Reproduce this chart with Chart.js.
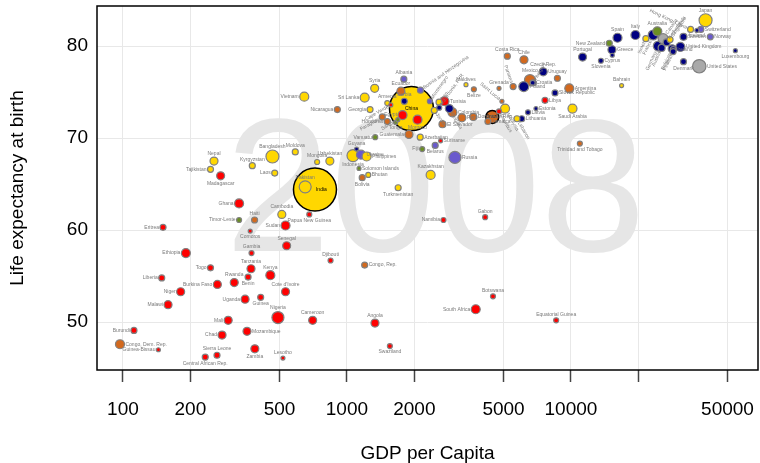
<!DOCTYPE html>
<html>
<head>
<meta charset="utf-8">
<script src="https://cdn.jsdelivr.net/npm/chart.js@4.4.1/dist/chart.umd.min.js"></script>
<style>
  html, body { margin: 0; padding: 0; background: #ffffff; }
  #wrap { width: 760px; height: 463px; }
</style>
</head>
<body>
<div id="wrap"><canvas id="gapminder" width="760" height="463"></canvas></div>
<script>
// Gapminder-style snapshot: GDP per capita vs life expectancy, 2008
const yearLabel = '2008';

const countries = [
  'Vietnam', 'Syria', 'Sri Lanka', 'Nicaragua', 'Albania', 'Ecuador', 'Armenia', 'Georgia', 'Paraguay', 'Honduras',
  'Vanuatu', 'Guyana', 'Indonesia', 'Ukraine', 'Philippines', 'Moldova', 'Mongolia', 'Uzbekistan', 'Bangladesh', 'Kyrgyzstan',
  'Laos', 'India', 'Pakistan', 'Cambodia', 'Haiti', 'Sudan', 'Papua New Guinea', 'Bolivia', 'Solomon Islands', 'Bhutan',
  'Nepal', 'Tajikistan', 'Madagascar', 'Ghana', 'Timor-Leste', 'Eritrea', 'Comoros', 'Gambia', 'Ethiopia', 'Togo',
  'Tanzania', 'Liberia', 'Rwanda', 'Burkina Faso', 'Benin', 'Niger', 'Uganda', 'Malawi', 'Mali', 'Chad',
  'Burundi', 'Congo, Dem. Rep.', 'Guinea-Bissau', 'Sierra Leone', 'Central African Rep.', 'Senegal', 'Kenya', "Cote d'Ivoire", 'Djibouti', 'Congo, Rep.',
  'Guinea', 'Nigeria', 'Cameroon', 'Angola', 'Mozambique', 'Zambia', 'Lesotho', 'Swaziland', 'South Africa', 'Botswana',
  'Equatorial Guinea', 'Russia', 'Kazakhstan', 'Turkmenistan', 'Namibia', 'Gabon', 'Belarus', 'Fiji', 'Suriname', 'Azerbaijan',
  'Guatemala', 'Tonga', 'Samoa', 'Cape Verde', 'Serbia', 'Egypt', 'Morocco', 'China', 'Bosnia and Herzegovina', 'Tunisia',
  'Colombia', 'El Salvador', 'Peru', 'Dominican Rep.', 'Belize', 'Maldives', 'Grenada', 'Costa Rica', 'Chile', 'Mexico',
  'Brazil', 'Panama', 'Poland', 'Hungary', 'Saint Lucia', 'Malaysia', 'Mauritius', 'Estonia', 'Lithuania', 'Latvia',
  'Lebanon', 'Jordan', 'Iran', 'Macedonia, FYR', 'Bulgaria', 'Montenegro', 'Jamaica', 'Spain', 'Italy', 'Israel',
  'Australia', 'New Zealand', 'Portugal', 'Greece', 'Cyprus', 'Slovenia', 'Czech Rep.', 'Uruguay', 'Argentina', 'Croatia',
  'Bahrain', 'Slovak Republic', 'Libya', 'Saudi Arabia', 'Trinidad and Tobago', 'Japan', 'Hong Kong, China', 'Switzerland', 'Iceland', 'Norway',
  'Sweden', 'United Kingdom', 'Ireland', 'Denmark', 'United States', 'Luxembourg', 'France', 'Germany', 'Austria', 'Netherlands',
  'Belgium', 'Finland', 'Canada', 'Singapore'
];

const gdpPerCapita = [
  645, 1330, 1200, 906, 1795, 1741, 1514, 1268, 1438, 1514,
  1337, 1104, 1064, 1155, 1224, 588, 736, 839, 465, 378,
  476, 720, 651, 512, 387, 532, 679, 1170, 1132, 1245,
  255, 246, 273, 330, 330, 151, 370, 375, 191, 246,
  373, 149, 314, 264, 362, 181, 351, 159, 295, 277,
  112, 97, 144, 263, 233, 538, 455, 532, 845, 1200,
  412, 492, 703, 1334, 358, 388, 518, 1555, 3758, 4487,
  8590, 3034, 2364, 1693, 2698, 4140, 2477, 2168, 2619, 2124,
  1892, 1650, 1687, 1570, 1803, 1771, 2066, 1941, 2129, 2725,
  2958, 2670, 3260, 3665, 3687, 3400, 4774, 5200, 6170, 6560,
  4455, 5520, 6160, 6790, 4920, 5080, 4774, 6980, 6030, 6430,
  5740, 2455, 2577, 2582, 2865, 2345, 4260, 16140, 19400, 21600,
  24300, 14830, 11270, 15240, 15300, 13610, 7520, 8700, 9830, 6750,
  16830, 8490, 7660, 10160, 10960, 39900, 34200, 38000, 36500, 41900,
  31800, 30800, 28600, 31800, 37400, 54200, 23300, 24550, 25400, 26750,
  28300, 28600, 25800, 27700
];

const lifeExpectancy = [
  74.5, 75.4, 74.4, 73.1, 76.4, 75.1, 73.8, 73.1, 72.3, 71.8,
  70.1, 68.8, 68.1, 68.2, 68.0, 68.5, 67.4, 67.5, 68.0, 67.0,
  66.2, 64.4, 64.7, 61.7, 61.1, 60.5, 61.7, 65.7, 66.7, 66.0,
  67.5, 66.6, 65.9, 62.9, 61.1, 60.3, 59.9, 57.5, 57.5, 55.9,
  55.8, 54.8, 54.3, 54.1, 54.9, 53.3, 52.5, 51.9, 50.2, 48.6,
  49.1, 47.6, 47.0, 46.4, 46.2, 58.3, 55.1, 53.3, 56.7, 56.2,
  52.7, 50.5, 50.2, 49.9, 49.0, 47.1, 46.1, 47.4, 51.4, 52.8,
  50.2, 67.9, 66.0, 64.6, 61.1, 61.4, 69.2, 68.8, 69.7, 70.1,
  70.4, 71.7, 72.0, 73.6, 74.0, 72.5, 72.0, 73.2, 75.2, 74.0,
  72.8, 71.5, 72.2, 72.3, 75.3, 75.8, 75.4, 78.9, 78.5, 76.3,
  72.3, 75.6, 75.6, 76.0, 74.0, 73.2, 72.9, 73.2, 72.1, 72.8,
  72.1, 73.0, 73.9, 73.3, 73.2, 74.0, 71.8, 80.9, 81.2, 80.8,
  81.6, 80.3, 78.8, 79.6, 79.0, 78.4, 77.2, 76.5, 75.4, 76.0,
  75.7, 74.9, 74.1, 73.2, 69.4, 82.8, 81.8, 81.8, 81.7, 81.0,
  81.0, 79.9, 79.6, 78.3, 77.8, 79.5, 81.2, 80.0, 79.8, 80.4,
  79.7, 79.4, 80.8, 80.7
];

// bubble radius as drawn (population)
const bubbleSize = [
  4.5, 4, 4.5, 3, 3, 4, 2.5, 3, 3, 3,
  2.5, 2, 6, 4.5, 4.5, 3, 2.5, 4, 6.5, 3,
  3, 21.5, 6, 4, 3, 4.5, 2.5, 3, 2, 2.5,
  4, 3, 4, 4.5, 2.5, 3, 2, 2.5, 4.5, 3,
  4, 3, 4, 4, 3, 4, 4, 4, 4, 4,
  3, 4.5, 2, 3, 3, 4, 4.5, 4, 2.5, 3,
  3, 6, 4, 4, 4, 4, 2, 2.5, 4.5, 2.5,
  2.5, 6, 4.5, 3, 2.5, 2.5, 3, 2.5, 2, 3,
  4, 2, 2, 2, 3, 4.5, 4.5, 22, 3, 4.5,
  4.5, 3.5, 4, 3.5, 2.5, 2, 2, 3, 4, 5.5,
  6.5, 3, 5, 3, 2, 4.5, 2.5, 2, 3, 2.5,
  3, 3, 3, 2.5, 4, 2.5, 3, 4.5, 4.5, 3,
  4.5, 3, 4, 4, 2, 2.5, 4, 3, 4.5, 2.5,
  2, 3, 3, 4.5, 2.5, 6.5, 3, 3, 2, 3,
  3.5, 4.5, 3, 3, 6.7, 2, 5, 5, 3.5, 3.5,
  4, 3, 5, 3
];

const region = [
  'AS', 'AS', 'AS', 'LA', 'EE', 'LA', 'AS', 'AS', 'LA', 'LA',
  'OC', 'EU', 'AS', 'EE', 'AS', 'AS', 'AS', 'AS', 'AS', 'AS',
  'AS', 'AS', 'AS', 'AS', 'LA', 'AF', 'AF', 'LA', 'OC', 'AS',
  'AS', 'AS', 'AF', 'AF', 'OC', 'AF', 'AF', 'AF', 'AF', 'AF',
  'AF', 'AF', 'AF', 'AF', 'AF', 'AF', 'AF', 'AF', 'AF', 'AF',
  'AF', 'LA', 'AF', 'AF', 'AF', 'AF', 'AF', 'AF', 'AF', 'LA',
  'AF', 'AF', 'AF', 'AF', 'AF', 'AF', 'AF', 'AF', 'AF', 'AF',
  'AF', 'EE', 'AS', 'AS', 'AF', 'AF', 'EE', 'OC', 'AF', 'AS',
  'LA', 'OC', 'OC', 'AF', 'EU', 'AF', 'AF', 'AS', 'EE', 'AF',
  'LA', 'LA', 'LA', 'LA', 'LA', 'AS', 'LA', 'LA', 'LA', 'LA',
  'LA', 'LA', 'EU', 'EU', 'LA', 'AS', 'AF', 'EU', 'EU', 'EU',
  'AS', 'AS', 'AS', 'EU', 'EU', 'EE', 'LA', 'EU', 'EU', 'AS',
  'OC', 'OC', 'EU', 'EU', 'EU', 'EU', 'EU', 'LA', 'LA', 'EU',
  'AS', 'EU', 'AF', 'AS', 'LA', 'AS', 'AS', 'EE', 'EU', 'EE',
  'EU', 'EU', 'EU', 'EU', 'NA', 'EU', 'EU', 'EU', 'EU', 'EU',
  'EU', 'EU', 'NA', 'AS'
];

const xTickValues = [100, 200, 500, 1000, 2000, 5000, 10000, 20000, 50000];
const xTickLabels = ['100', '200', '500', '1000', '2000', '5000', '10000', '', '50000'];
const yTickValues = [50, 60, 70, 80];

const regionColors = {
  AF: '#ff0000', AS: '#ffd700', EU: '#000080', LA: '#d2691e',
  EE: '#6a5acd', OC: '#6b8e23', NA: '#a9a9a9'
};
const highlighted = ['China', 'India', 'Brazil'];

// label placement around each bubble (default: left)
const labelTop = ['Nepal', 'Syria', 'Albania', 'Ecuador', 'Kenya', 'Tanzania', 'Gambia', 'Senegal', "Cote d'Ivoire",
  'Djibouti', 'Nigeria', 'Cameroon', 'Angola', 'Botswana', 'Equatorial Guinea', 'Gabon', 'Kazakhstan', 'Kyrgyzstan',
  'Bangladesh', 'Moldova', 'Mongolia', 'Uzbekistan', 'Guyana', 'Costa Rica', 'Chile', 'Mexico', 'Spain', 'Japan',
  'Australia', 'Italy', 'Portugal', 'Czech Rep.', 'Uruguay', 'Bahrain', 'Maldives', 'Grenada', 'Sierra Leone',
  'Lesotho', 'Haiti', 'Cambodia', 'Rwanda', 'Armenia', 'Pakistan', 'Serbia'];
const labelBottom = ['Madagascar', 'Bolivia', 'Benin', 'Guinea', 'Zambia', 'Swaziland', 'Indonesia', 'Belarus',
  'Comoros', 'Turkmenistan', 'Trinidad and Tobago', 'Saudi Arabia', 'Slovenia', 'Cyprus', 'Denmark',
  'Central African Rep.', 'Papua New Guinea', 'Belize', 'Iceland', 'Luxembourg', 'Morocco', 'Tonga'];
const labelRight = ['Mozambique', 'Congo, Dem. Rep.', 'Switzerland', 'Norway', 'Sweden', 'United Kingdom', 'Ireland',
  'United States', 'Greece', 'Argentina', 'Croatia', 'Slovak Republic', 'Libya', 'Estonia', 'Congo, Rep.', 'Suriname',
  'Azerbaijan', 'Tunisia', 'Russia', 'Poland', 'El Salvador', 'Ukraine', 'Philippines', 'Solomon Islands', 'Bhutan',
  'Colombia', 'Dominican Rep.', 'Latvia', 'Lithuania', 'Jamaica', 'Peru'];
const labelCenter = ['China', 'Brazil'];
const labelRotated = {
  'Hong Kong, China': [25, 'end'], 'Israel': [-65, 'end'], 'France': [-65, 'end'], 'Germany': [-65, 'end'],
  'Austria': [-65, 'end'], 'Belgium': [-65, 'end'], 'Finland': [-65, 'end'], 'Netherlands': [-55, 'start'],
  'Canada': [-55, 'start'], 'Singapore': [-55, 'start'], 'Bosnia and Herzegovina': [-35, 'start'],
  'Cape Verde': [-30, 'end'], 'Panama': [70, 'end'], 'Saint Lucia': [40, 'end'], 'Montenegro': [-55, 'start'],
  'Macedonia, FYR': [-55, 'start'], 'Jordan': [55, 'start'], 'Iran': [-50, 'start'], 'Lebanon': [60, 'start'],
  'Malaysia': [60, 'start'], 'Mauritius': [60, 'start'], 'Bulgaria': [60, 'start'], 'Samoa': [-30, 'end'],
  'Paraguay': [-30, 'end'], 'Hungary': [-60, 'start']
};

const points = countries.map((name, i) => ({
  x: gdpPerCapita[i], y: lifeExpectancy[i], r: bubbleSize[i], name, region: region[i]
})).sort((a, b) => b.r - a.r);

const FONT = '"Liberation Sans", Arial, Helvetica, sans-serif';

const yearPlugin = {
  id: 'yearBackdrop',
  beforeDatasetsDraw(chart) {
    const { ctx, chartArea } = chart;
    ctx.save();
    ctx.font = '189px ' + FONT;
    ctx.fillStyle = '#e6e6e6';
    ctx.textAlign = 'center';
    ctx.textBaseline = 'alphabetic';
    ctx.fillText(yearLabel, (chartArea.left + chartArea.right) / 2 + 8, chartArea.top + 245);
    ctx.restore();
  }
};

const labelPlugin = {
  id: 'countryLabels',
  afterDatasetsDraw(chart) {
    const ctx = chart.ctx;
    const meta = chart.getDatasetMeta(0);
    ctx.save();
    meta.data.forEach((el, i) => {
      const p = points[i];
      const r = p.r + 1;
      const x = el.x, y = el.y;
      const name = p.name;
      ctx.font = '5px ' + FONT;
      ctx.fillStyle = '#7a7a7a';
      if (labelCenter.includes(name) || name === 'India') {
        ctx.fillStyle = '#000000';
        ctx.textAlign = name === 'India' ? 'left' : 'center';
        ctx.textBaseline = 'middle';
        ctx.fillText(name, name === 'India' ? x + 1 : x, y);
      } else if (labelRotated[name]) {
        const [deg, anchor] = labelRotated[name];
        ctx.translate(x, y);
        ctx.rotate(deg * Math.PI / 180);
        ctx.textBaseline = 'middle';
        if (anchor === 'start') {
          ctx.textAlign = 'left';
          ctx.fillText(name, r, 0);
        } else {
          ctx.textAlign = 'right';
          ctx.fillText(name, -r, 0);
        }
        ctx.setTransform(1, 0, 0, 1, 0, 0);
      } else if (labelTop.includes(name)) {
        ctx.textAlign = 'center';
        ctx.textBaseline = 'bottom';
        ctx.fillText(name, x, y - r);
      } else if (labelBottom.includes(name)) {
        ctx.textAlign = 'center';
        ctx.textBaseline = 'top';
        ctx.fillText(name, x, y + r);
      } else if (labelRight.includes(name)) {
        ctx.textAlign = 'left';
        ctx.textBaseline = 'middle';
        ctx.fillText(name, x + r, y);
      } else {
        ctx.textAlign = 'right';
        ctx.textBaseline = 'middle';
        ctx.fillText(name, x - r, y);
      }
    });
    ctx.restore();
  },
  afterDraw(chart) {
    const { ctx, chartArea: a } = chart;
    ctx.save();
    ctx.strokeStyle = '#000000';
    ctx.lineWidth = 1.5;
    ctx.strokeRect(a.left, a.top, a.right - a.left, a.bottom - a.top);
    ctx.restore();
  }
};

new Chart(document.getElementById('gapminder'), {
  type: 'bubble',
  data: {
    datasets: [{
      data: points,
      backgroundColor: points.map(p => regionColors[p.region]),
      borderColor: points.map(p => highlighted.includes(p.name) ? '#000000' : '#808080'),
      borderWidth: points.map(p => highlighted.includes(p.name) ? 1.5 : 1.2)
    }]
  },
  options: {
    responsive: false,
    animation: false,
    devicePixelRatio: 1,
    layout: { autoPadding: false, padding: { top: 6, right: 2, left: 0, bottom: 0 } },
    plugins: { legend: { display: false }, tooltip: { enabled: false } },
    scales: {
      x: {
        type: 'logarithmic',
        min: 76.6,
        max: 68400,
        afterFit: s => { s.height = 93; s.paddingLeft = 0; s.paddingRight = 0; },
        afterBuildTicks: s => { s.ticks = xTickValues.map(v => ({ value: v })); },
        border: { display: false },
        grid: { color: '#e8e8e8', lineWidth: 1, tickColor: '#444444', tickLength: 12, tickWidth: 1.5 },
        ticks: {
          autoSkip: false, maxRotation: 0, padding: 16, color: '#000000',
          font: { family: FONT, size: 19 },
          callback: (v, i) => xTickLabels[i]
        },
        title: {
          display: true, text: 'GDP per Capita', color: '#000000',
          font: { family: FONT, size: 19, lineHeight: 1 }, padding: { top: 0, bottom: 0 }
        }
      },
      y: {
        min: 44.8,
        max: 84.35,
        afterFit: s => { s.width = 97; s.paddingTop = 0; s.paddingBottom = 0; },
        afterBuildTicks: s => { s.ticks = yTickValues.map(v => ({ value: v })); },
        border: { display: false },
        grid: { color: '#e8e8e8', lineWidth: 1, drawTicks: false },
        ticks: {
          padding: 9, color: '#000000',
          font: { family: FONT, size: 19 }
        },
        title: {
          display: true, text: 'Life expectancy at birth', color: '#000000',
          font: { family: FONT, size: 19, lineHeight: 1 }, padding: { top: 8, bottom: 0 }
        }
      }
    }
  },
  plugins: [yearPlugin, labelPlugin]
});
</script>
</body>
</html>
